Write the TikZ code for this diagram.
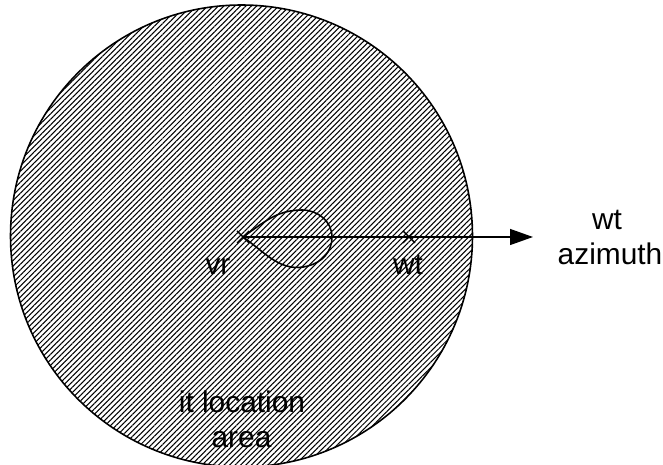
\documentclass[tikz,border=0pt]{standalone}
\usepackage{fontspec}
\setmainfont{Liberation Sans}
\usetikzlibrary{patterns.meta,arrows.meta,calc}
\begin{document}
\begin{tikzpicture}[x=0.02cm,y=-0.02cm,
  lbl/.style={font=\fontsize{17}{20}\selectfont, inner sep=0pt, anchor=base},
  cross/.style={line width=0.8pt},
  conn/.style={line width=0.9pt}]
\useasboundingbox (0,0) rectangle (663,465);
\node[circle, minimum size=462*0.02cm, draw, line width=0.9pt,
  pattern={Lines[angle=45,distance=2.2pt,line width=0.6pt]}] (area) at (241.5,236) {};
\coordinate (vr) at (243,237);
\coordinate (wt) at (409,237);
\coordinate (tip) at (533,237);
\draw[cross] ($(vr)+(-6,-6)$) -- ($(vr)+(6,6)$) ($(vr)+(-6,6)$) -- ($(vr)+(6,-6)$);
\draw[cross] ($(wt)+(-6,-6)$) -- ($(wt)+(6,6)$) ($(wt)+(-6,6)$) -- ($(wt)+(6,-6)$);
\draw[conn,-{Triangle[length=13pt,width=9pt]}] (vr) -- (tip);
\coordinate (lt) at (302,210);
\coordinate (lr) at (332,237);
\coordinate (lb) at (308,266);
\draw[conn] (vr) to[out=35,in=180] (lt) to[out=0,in=90] (lr) to[out=-90,in=15] (lb) to[out=195,in=-35] (vr);
\node[lbl] (vrl) at (218,275) {vr};
\node[lbl] (wtl) at (408,275) {wt};
\node[lbl] (az1) at (607,230) {wt};
\node[lbl] (az2) at (610,265) {azimuth};
\node[lbl] (it1) at (242,413) {it location};
\node[lbl] (it2) at (241.5,448) {area};
\end{tikzpicture}
\end{document}
